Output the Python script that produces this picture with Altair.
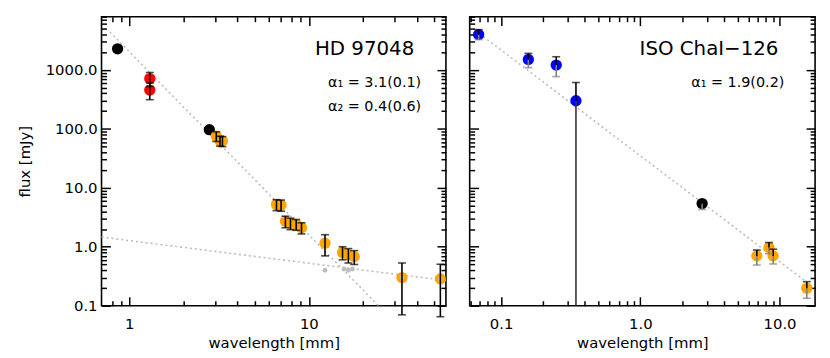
import altair as alt
import pandas as pd

FONT = "DejaVu Sans"
ORANGE = "#FFA500"
RED = "#FF0000"
BLUE = "#0000FF"
GRAY = "#808080"
FITC = "#b8b8b8"

# ---------------- HD 97048 (left panel) ----------------
hd_black_lam = [0.86, 2.79]
hd_black_flux = [2280, 97]
hd_red_lam = [1.30, 1.30]
hd_red_flux = [714, 456]
hd_red_err = [190, 143]
hd_orange_lam = [3.05, 3.2, 3.3, 6.6, 7.0, 7.4, 7.9, 8.5, 9.1, 12.3, 15.4, 16.6, 17.9, 33.0, 54.0]
hd_orange_flux = [75, 63, 62, 5.2, 5.1, 2.7, 2.5, 2.4, 2.1, 1.15, 0.80, 0.73, 0.68, 0.30, 0.285]
hd_orange_err = [14, 12, 12, 1.1, 1.1, 0.6, 0.55, 0.5, 0.45, 0.45, 0.2, 0.2, 0.18, 0.23, 0.22]
hd_gray_lam = [12.3, 15.7, 16.6, 17.5, 33.0, 54.0]
hd_gray_flux = [0.40, 0.42, 0.40, 0.42, 0.30, 0.285]
hd_fit_seg = ["a", "a", "b", "b"]
hd_fit_lam = [0.78, 24.4, 0.70, 58.0]
hd_fit_flux = [4400, 0.1, 1.46, 0.267]

# ---------------- ISO ChaI-126 (right panel) ----------------
iso_lam = [0.069, 0.157, 0.249, 0.345, 2.78, 6.87, 8.4, 9.0, 15.7]
iso_flux = [3980, 1510, 1210, 300, 5.4, 0.70, 0.97, 0.70, 0.198]
iso_hi = [4830, 1910, 1674, 612, 6.1, 0.88, 1.18, 0.91, 0.256]
iso_lo = [3280, 1093, 771, 0.1, 4.3, 0.49, 0.76, 0.51, 0.134]
iso_color = [BLUE, BLUE, BLUE, BLUE, "black", ORANGE, ORANGE, ORANGE, ORANGE]
iso_lo_color = [GRAY, GRAY, GRAY, "#333333", GRAY, GRAY, GRAY, GRAY, GRAY]
iso_lo_cap = [True, True, True, False, True, True, True, True, True]
iso_fit_lam = [0.0699, 15.7]
iso_fit_flux = [4140, 0.25]

# ---------------- axes ----------------
y_domain = [0.1, 8000]
y_major = [0.1, 1, 10, 100, 1000]
y_minor = [0.2, 0.3, 0.4, 0.5, 0.6, 0.7, 0.8, 0.9,
           2, 3, 4, 5, 6, 7, 8, 9,
           20, 30, 40, 50, 60, 70, 80, 90,
           200, 300, 400, 500, 600, 700, 800, 900,
           2000, 3000, 4000, 5000, 6000, 7000, 8000]
hd_x_domain = [0.7, 58]
hd_x_major = [1, 10]
hd_x_minor = [0.8, 0.9, 2, 3, 4, 5, 6, 7, 8, 9, 20, 30, 40, 50]
iso_x_domain = [0.0595, 18]
iso_x_major = [0.1, 1, 10]
iso_x_minor = [0.06, 0.07, 0.08, 0.09, 0.2, 0.3, 0.4, 0.5, 0.6, 0.7, 0.8, 0.9,
               2, 3, 4, 5, 6, 7, 8, 9]

MAJ = 9
MIN = 5
W_L, W_R, H = 348, 349, 292
PT = 130


def axis_layers(xs, ys, x_major, x_minor, x_fmt, y_labels, df):
    base = alt.Chart(df).mark_point(opacity=0)
    common = dict(domain=False, grid=False, labelOverlap=False, labelFlush=False)
    xa_major = alt.Axis(orient="bottom", values=x_major, offset=-MAJ, tickSize=MAJ,
                        labelExpr=f"format(datum.value, '{x_fmt}')", labelPadding=11,
                        title="wavelength [mm]", titlePadding=4, **common)
    if y_labels:
        ya_major = alt.Axis(orient="left", values=y_major, offset=-MAJ, tickSize=MAJ,
                            labelExpr="format(datum.value, '.1f')", labelPadding=4.5,
                            title="flux [mJy]", titlePadding=13, **common)
    else:
        ya_major = alt.Axis(orient="left", values=y_major, offset=-MAJ, tickSize=MAJ,
                            labels=False, title=None, **common)
    layers = [
        base.encode(x=alt.X("lam:Q", scale=xs, axis=xa_major),
                    y=alt.Y("flux:Q", scale=ys, axis=ya_major)),
        base.encode(x=alt.X("lam:Q", scale=xs,
                            axis=alt.Axis(orient="bottom", values=x_minor, offset=-MIN, tickSize=MIN,
                                          labels=False, title=None, **common)),
                    y=alt.Y("flux:Q", scale=ys,
                            axis=alt.Axis(orient="left", values=y_minor, offset=-MIN, tickSize=MIN,
                                          labels=False, title=None, **common))),
        base.encode(x=alt.X("lam:Q", scale=xs,
                            axis=alt.Axis(orient="top", values=x_major, offset=-MAJ, tickSize=MAJ,
                                          labels=False, title=None, **common)),
                    y=alt.Y("flux:Q", scale=ys,
                            axis=alt.Axis(orient="right", values=y_major, offset=-MAJ, tickSize=MAJ,
                                          labels=False, title=None, **common))),
        base.encode(x=alt.X("lam:Q", scale=xs,
                            axis=alt.Axis(orient="top", values=x_minor, offset=-MIN, tickSize=MIN,
                                          labels=False, title=None, **common)),
                    y=alt.Y("flux:Q", scale=ys,
                            axis=alt.Axis(orient="right", values=y_minor, offset=-MIN, tickSize=MIN,
                                          labels=False, title=None, **common))),
    ]
    return layers


def text_layer(text, x, y, size):
    return alt.Chart(pd.DataFrame({"t": [text]})).mark_text(
        align="right", baseline="alphabetic", font=FONT, fontSize=size, color="black"
    ).encode(text="t:N", x=alt.value(x), y=alt.value(y))


# ---------------- left panel ----------------
xsL = alt.Scale(type="log", domain=hd_x_domain, nice=False)
ysL = alt.Scale(type="log", domain=y_domain, nice=False)
X = lambda s: alt.X("lam:Q", scale=s, axis=None)

hd_pts = pd.DataFrame({
    "lam": hd_black_lam + hd_red_lam + hd_orange_lam,
    "flux": hd_black_flux + hd_red_flux + hd_orange_flux,
    "color": ["black"] * len(hd_black_lam) + [RED] * len(hd_red_lam) + [ORANGE] * len(hd_orange_lam),
})
err_lam = hd_red_lam + hd_orange_lam
err_flux = hd_red_flux + hd_orange_flux
err_err = hd_red_err + hd_orange_err
hd_bars = pd.DataFrame({
    "lam": err_lam,
    "lo": [f - e for f, e in zip(err_flux, err_err)],
    "hi": [f + e for f, e in zip(err_flux, err_err)],
})
hd_caps = pd.DataFrame({
    "lam": err_lam + err_lam,
    "flux": list(hd_bars["lo"]) + list(hd_bars["hi"]),
})
hd_gray = pd.DataFrame({"lam": hd_gray_lam, "flux": hd_gray_flux})
hd_fit = pd.DataFrame({"lam": hd_fit_lam, "flux": hd_fit_flux, "seg": hd_fit_seg})

YL = lambda f: alt.Y(f, scale=ysL, axis=None)

left_layers = axis_layers(xsL, ysL, hd_x_major, hd_x_minor, "d", True, hd_pts) + [
    alt.Chart(hd_fit).mark_line(color=FITC, strokeWidth=1.5, strokeDash=[2, 3]).encode(
        x=X(xsL), y=YL("flux:Q"), detail="seg:N"),
    alt.Chart(hd_pts).mark_circle(size=PT, opacity=1).encode(
        x=X(xsL), y=YL("flux:Q"), color=alt.Color("color:N", scale=None)),
    alt.Chart(hd_gray).mark_circle(size=24, opacity=1, color="#bdbdbd").encode(
        x=X(xsL), y=YL("flux:Q")),
    alt.Chart(hd_bars).mark_rule(color="black", strokeWidth=1.6).encode(
        x=X(xsL), y=YL("lo:Q"), y2="hi:Q"),
    alt.Chart(hd_caps).mark_tick(orient="horizontal", color="black", size=8, thickness=1.6).encode(
        x=X(xsL), y=YL("flux:Q")),
    text_layer("HD 97048", 316, 39, 20),
    text_layer("α₁ = 3.1(0.1)", 323, 71, 14.5),
    text_layer("α₂ = 0.4(0.6)", 323, 95, 14.5),
]
left = alt.layer(*left_layers).resolve_axis(x="independent", y="independent").properties(
    width=W_L, height=H)

# ---------------- right panel ----------------
xsR = alt.Scale(type="log", domain=iso_x_domain, nice=False)
ysR = alt.Scale(type="log", domain=y_domain, nice=False)
YR = lambda f: alt.Y(f, scale=ysR, axis=None)

iso_pts = pd.DataFrame({"lam": iso_lam, "flux": iso_flux, "color": iso_color})
iso_up = pd.DataFrame({"lam": iso_lam, "a": iso_flux, "b": iso_hi})
iso_down = pd.DataFrame({"lam": iso_lam, "a": iso_lo, "b": iso_flux, "color": iso_lo_color})
iso_cap_hi = pd.DataFrame({"lam": iso_lam, "flux": iso_hi})
iso_cap_lo = pd.DataFrame({
    "lam": [l for l, k in zip(iso_lam, iso_lo_cap) if k],
    "flux": [v for v, k in zip(iso_lo, iso_lo_cap) if k],
})
iso_fit = pd.DataFrame({"lam": iso_fit_lam, "flux": iso_fit_flux})

right_layers = axis_layers(xsR, ysR, iso_x_major, iso_x_minor, ".1f", False, iso_pts) + [
    alt.Chart(iso_fit).mark_line(color=FITC, strokeWidth=1.5, strokeDash=[2, 3]).encode(
        x=X(xsR), y=YR("flux:Q")),
    alt.Chart(iso_pts).mark_circle(size=PT, opacity=1).encode(
        x=X(xsR), y=YR("flux:Q"), color=alt.Color("color:N", scale=None)),
    alt.Chart(iso_down).mark_rule(strokeWidth=1.6).encode(
        x=X(xsR), y=YR("a:Q"), y2="b:Q", color=alt.Color("color:N", scale=None)),
    alt.Chart(iso_up).mark_rule(color="black", strokeWidth=1.6).encode(
        x=X(xsR), y=YR("a:Q"), y2="b:Q"),
    alt.Chart(iso_cap_lo).mark_tick(orient="horizontal", color=GRAY, size=8, thickness=1.6).encode(
        x=X(xsR), y=YR("flux:Q")),
    alt.Chart(iso_cap_hi).mark_tick(orient="horizontal", color="black", size=8, thickness=1.6).encode(
        x=X(xsR), y=YR("flux:Q")),
    text_layer("ISO ChaI−126", 312, 39, 20),
    text_layer("α₁ = 1.9(0.2)", 318, 71, 14.5),
]
right = alt.layer(*right_layers).resolve_axis(x="independent", y="independent").properties(
    width=W_R, height=H)

chart = alt.hconcat(left, right, spacing=18).properties(
    padding={"left": 8.5, "top": 5, "right": 5, "bottom": 0}
).configure_view(
    stroke="black", strokeWidth=1.6
).configure_axis(
    labelFont=FONT, titleFont=FONT, labelFontSize=15, titleFontSize=15,
    titleFontWeight="normal", labelColor="black", titleColor="black",
    tickColor="black", tickWidth=1.5,
)

chart.save("out.html", embed_options={"renderer": "svg", "actions": False})
